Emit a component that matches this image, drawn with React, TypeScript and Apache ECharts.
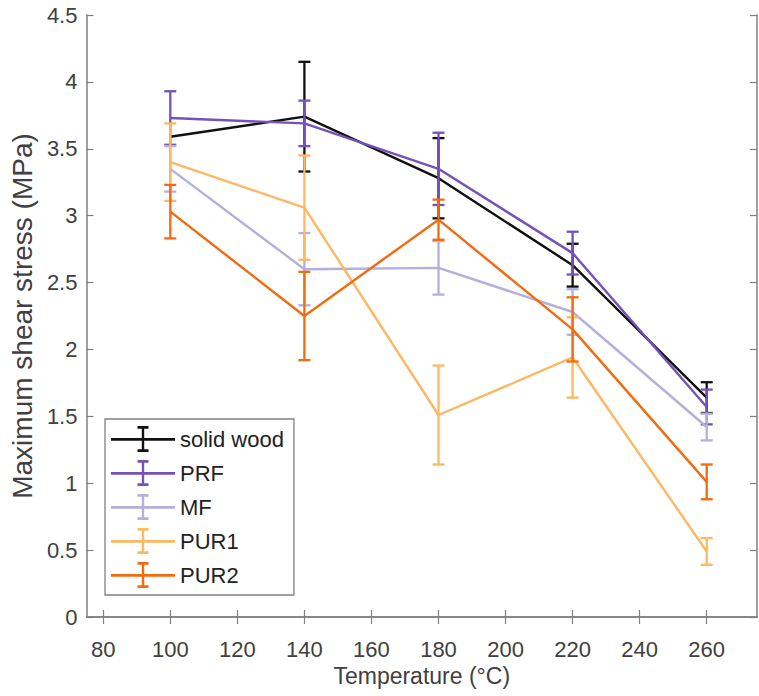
import { useEffect, useRef } from "react";
import * as echarts from "echarts";

const temperatures = [100, 140, 180, 220, 260];
const xTickValues = [80, 100, 120, 140, 160, 180, 200, 220, 240, 260];
const seriesNames = ["solid wood", "PRF", "MF", "PUR1", "PUR2"];

const solidWood = [3.59, 3.74, 3.28, 2.63, 1.64];
const solidWoodErr = [0, 0.41, 0.3, 0.16, 0.115];
const prf = [3.73, 3.69, 3.35, 2.72, 1.57];
const prfErr = [0.2, 0.17, 0.27, 0.16, 0.13];
const mf = [3.35, 2.6, 2.61, 2.28, 1.42];
const mfErr = [0.17, 0.27, 0.2, 0.17, 0.1];
const pur1 = [3.4, 3.06, 1.51, 1.94, 0.49];
const pur1Err = [0.29, 0.39, 0.37, 0.3, 0.1];
const pur2 = [3.03, 2.25, 2.97, 2.15, 1.01];
const pur2Err = [0.2, 0.33, 0.15, 0.24, 0.13];

const colors = ["#111111", "#7552b8", "#b5afdc", "#fdb863", "#f26b0f"];

const SANS = "'Liberation Sans', Arial, Helvetica, sans-serif";
const TEXT = "#404040";
const BOX = "#808080";

const legendIcon =
  "path://M0,12 L64,12 L64,14.5 L0,14.5 Z M30.8,2 L33.2,2 L33.2,24 L30.8,24 Z M26.5,1 L37.5,1 L37.5,3.5 L26.5,3.5 Z M26.5,22.5 L37.5,22.5 L37.5,25 L26.5,25 Z";

export default function App() {
  const ref = useRef<HTMLDivElement>(null);
  useEffect(() => {
    if (!ref.current) return;
    const chart = echarts.init(ref.current, undefined, { renderer: "svg" });
    const values = [solidWood, prf, mf, pur1, pur2];
    const errs = [solidWoodErr, prfErr, mfErr, pur1Err, pur2Err];

    const series: any[] = [];
    seriesNames.forEach((name, i) => {
      const color = colors[i];
      series.push({
        name,
        type: "line",
        data: temperatures.map((t, j) => [t, values[i][j]]),
        showSymbol: false,
        symbol: "none",
        lineStyle: { color, width: 2.4 },
        itemStyle: { color },
        z: 2 + i,
      });
      series.push({
        name: name + " error",
        type: "custom",
        data: temperatures
          .map((t, j) => [t, values[i][j] - errs[i][j], values[i][j] + errs[i][j], errs[i][j]])
          .filter((d) => d[3] > 0),
        encode: { x: 0, y: [1, 2] },
        z: 2 + i,
        renderItem: (params: any, api: any) => {
          const x = api.value(0);
          const top = api.coord([x, api.value(2)]);
          const bot = api.coord([x, api.value(1)]);
          const hw = 6;
          const st = { stroke: color, lineWidth: 2.3 };
          return {
            type: "group",
            children: [
              { type: "line", shape: { x1: top[0], y1: top[1], x2: bot[0], y2: bot[1] }, style: st },
              { type: "line", shape: { x1: top[0] - hw, y1: top[1], x2: top[0] + hw, y2: top[1] }, style: st },
              { type: "line", shape: { x1: bot[0] - hw, y1: bot[1], x2: bot[0] + hw, y2: bot[1] }, style: st },
            ],
          };
        },
      });
    });

    const xCommon = {
      type: "value",
      min: 75,
      max: 275,
      splitLine: { show: false },
      axisLine: { show: true, lineStyle: { color: BOX, width: 1.5 } },
      axisTick: { show: true, inside: true, length: 7, customValues: xTickValues, lineStyle: { color: BOX, width: 1.2 } },
    };
    const yCommon = {
      type: "value",
      min: 0,
      max: 4.5,
      interval: 0.5,
      splitLine: { show: false },
      axisLine: { show: true, lineStyle: { color: BOX, width: 1.5 } },
      axisTick: { show: true, inside: true, length: 7, lineStyle: { color: BOX, width: 1.2 } },
    };

    chart.setOption({
      animation: false,
      backgroundColor: "#ffffff",
      grid: { left: 86, right: 2, top: 15, bottom: 79 },
      xAxis: [
        {
          ...xCommon,
          position: "bottom",
          axisLabel: {
            customValues: xTickValues,
            fontSize: 22,
            fontFamily: SANS,
            color: TEXT,
            margin: 21,
          },
          name: "Temperature (\u00B0C)",
          nameLocation: "middle",
          nameGap: 46,
          nameTextStyle: { fontSize: 23, fontFamily: SANS, color: TEXT },
        },
        { ...xCommon, position: "top", axisLabel: { show: false } },
      ],
      yAxis: [
        {
          ...yCommon,
          position: "left",
          axisLabel: { fontSize: 22, fontFamily: SANS, color: TEXT, margin: 9 },
          name: "Maximum shear stress (MPa)",
          nameLocation: "middle",
          nameGap: 37,
          nameTextStyle: { fontSize: 28, fontFamily: SANS, color: TEXT },
        },
        { ...yCommon, position: "right", axisLabel: { show: false } },
      ],
      legend: {
        data: seriesNames,
        orient: "vertical",
        left: 105,
        top: 419,
        padding: [7, 10, 7, 6],
        itemGap: 8,
        itemWidth: 64,
        itemHeight: 26,
        itemTextGap: 5,
        icon: legendIcon,
        symbolKeepAspect: false,
        borderColor: BOX,
        borderWidth: 1.3,
        backgroundColor: "#ffffff",
        itemStyle: { borderWidth: 0 },
        lineStyle: { width: 0 },
        textStyle: { fontSize: 22, fontFamily: SANS, color: "#222222" },
      },
      series,
    });
    return () => chart.dispose();
  }, []);
  return (
    <div
      ref={ref}
      style={{ position: "fixed", left: 0, top: 0, width: 759, height: 696 }}
    />
  );
}
